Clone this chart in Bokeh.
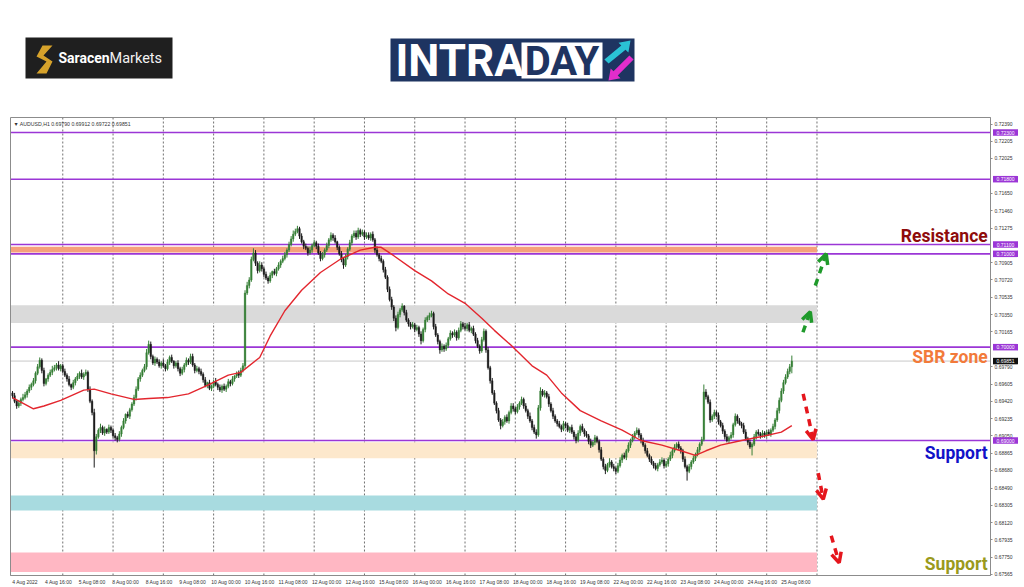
from bokeh.plotting import figure
from bokeh.models import (ColumnDataSource, Range1d, FixedTicker, LinearAxis,
                          Arrow, OpenHead, PrintfTickFormatter)
from bokeh.core.properties import value
from bokeh.embed import file_html
from bokeh.resources import INLINE

# ---------------------------------------------------------------- data
symbol_title = "\u25BC AUDUSD,H1  0.69790 0.69912 0.69722 0.69851"
first_open = 0.6951
# hourly closes in pips (0.0001), 4 Aug 2022 00:00 -> 25 Aug 2022 12:00
close_pips = [
6948,6942,6937,6940,6944,6946,6949,6953,6957,6960,
6964,6972,6979,6986,6975,6961,6966,6970,6973,6976,
6978,6981,6977,6980,6974,6970,6966,6960,6957,6962,
6966,6969,6972,6968,6971,6973,6955,6942,6930,6889,
6904,6911,6914,6908,6912,6909,6914,6911,6905,6903,
6901,6907,6914,6921,6928,6926,6933,6939,6946,6955,
6966,6970,6975,6979,6994,7003,6990,6983,6987,6984,
6980,6983,6980,6977,6984,6989,6985,6980,6983,6977,
6972,6976,6981,6986,6984,6990,6981,6975,6977,6974,
6971,6965,6959,6962,6956,6958,6963,6960,6957,6954,
6958,6955,6958,6963,6961,6966,6969,6972,6970,6975,
6980,7058,7066,7072,7094,7101,7090,7082,7088,7084,
7078,7074,7071,7077,7081,7079,7084,7088,7092,7095,
7099,7104,7110,7116,7121,7124,7127,7119,7113,7108,
7106,7101,7104,7109,7112,7108,7101,7095,7099,7104,
7109,7115,7120,7117,7113,7107,7100,7094,7088,7097,
7105,7112,7119,7122,7118,7125,7121,7123,7118,7120,
7117,7121,7115,7104,7099,7095,7092,7083,7075,7062,
7051,7043,7031,7021,7035,7040,7044,7037,7029,7025,
7022,7024,7019,7021,7014,7007,7019,7029,7032,7034,
7036,7022,7013,7006,6997,7001,6998,7002,7009,7015,
7013,7016,7010,7018,7025,7022,7020,7024,7018,7020,
7014,7007,7001,6996,7008,7017,6997,6978,6964,6951,
6940,6932,6922,6916,6920,6925,6921,6930,6937,6934,
6931,6936,6940,6944,6937,6932,6926,6921,6914,6909,
6906,6935,6953,6949,6951,6947,6939,6932,6926,6921,
6918,6915,6912,6918,6916,6911,6914,6909,6904,6900,
6908,6915,6911,6907,6905,6899,6895,6898,6903,6899,
6890,6880,6872,6868,6874,6877,6872,6870,6867,6873,
6879,6884,6882,6889,6895,6900,6904,6908,6911,6906,
6900,6895,6889,6884,6880,6876,6873,6870,6874,6877,
6879,6873,6875,6880,6884,6889,6893,6896,6892,6889,
6880,6872,6867,6872,6877,6881,6885,6890,6896,6901,
6952,6947,6941,6922,6926,6930,6927,6920,6916,6910,
6904,6900,6903,6906,6917,6926,6921,6918,6916,6909,
6902,6898,6893,6896,6904,6909,6907,6905,6908,6906,
6909,6907,6911,6915,6922,6932,6943,6953,6962,6968,
6974,6979,6985]
# upper / lower wick lengths in pips
up_wick = [
2,3,1,3,2,4,3,2,3,2, 3,2,3,3,2,3,1,2,3,4, 3,2,4,2,2,3,2,3,1,3,
2,3,2,4,2,3,2,3,2,4, 3,2,4,2,3,1,3,2,2,3, 2,3,2,3,1,3,2,2,3,3,
2,3,2,3,4,4,3,2,3,2, 3,2,4,2,3,2,3,1,2,3, 2,3,2,3,2,3,3,2,3,2,
3,2,3,1,3,2,2,4,2,3, 2,3,2,3,2,3,1,2,3,3, 3,3,4,3,3,5,3,2,4,3,
2,3,2,3,1,3,2,3,2,3, 3,2,3,3,4,3,3,2,3,2, 3,2,4,2,3,2,3,2,3,2,
3,2,3,2,3,1,2,3,2,3, 2,3,2,3,3,3,2,3,2,3, 3,2,3,2,4,2,3,2,3,2,
3,3,2,3,3,2,3,1,3,2, 2,3,2,3,2,3,2,3,2,3, 3,2,3,2,2,3,2,3,2,3,
2,3,2,3,3,2,4,2,3,2, 3,2,3,2,3,3,2,3,2,3, 3,2,3,2,3,2,3,2,3,3,
2,3,2,3,2,3,2,4,2,3, 3,3,4,2,3,2,3,2,3,2, 2,3,2,3,2,3,1,3,2,3,
3,2,3,2,3,2,3,2,3,2, 2,3,2,3,2,4,2,3,2,3, 3,2,3,2,3,2,3,2,3,2,
2,3,2,3,2,3,2,3,2,3, 3,2,3,2,4,2,3,2,3,2, 2,3,2,3,2,3,2,3,2,3,
8,3,2,3,2,3,2,3,2,3, 2,3,2,3,2,3,2,3,2,3, 3,2,3,2,3,2,3,2,3,2,
2,3,2,3,2,3,3,3,3,3, 3,3,6]
dn_wick = [
3,2,3,2,3,2,2,3,2,3, 2,3,2,2,3,3,2,3,2,3, 2,3,2,3,2,2,3,2,3,2,
3,2,3,2,3,2,3,2,3,18, 4,2,3,2,3,2,2,3,2,3, 3,2,3,2,3,2,3,2,2,3,
2,3,2,2,3,2,3,2,3,2, 2,3,2,3,2,3,2,3,2,3, 3,2,3,2,3,2,2,3,2,3,
2,3,2,3,2,3,2,2,3,2, 3,2,3,2,3,2,3,2,3,2, 2,3,2,3,2,2,3,3,2,3,
3,2,3,2,3,2,3,2,3,2, 2,3,2,2,3,2,2,3,2,3, 2,3,2,3,2,3,2,3,2,3,
2,3,2,3,2,3,2,3,4,2, 3,2,3,2,3,2,3,2,3,2, 2,3,2,3,2,3,2,3,2,3,
2,3,3,4,2,3,2,3,2,3, 3,2,3,2,3,4,2,3,2,3, 2,3,2,3,4,2,3,2,3,2,
3,2,3,2,2,3,2,3,2,3, 2,3,2,3,2,2,3,2,3,2, 2,3,2,4,2,3,2,3,2,3,
3,2,3,2,3,2,3,2,3,2, 4,2,3,2,3,2,3,2,3,2, 3,2,3,2,3,2,3,2,3,3,
2,3,2,3,2,3,3,2,3,2, 3,2,3,4,2,3,2,3,3,2, 2,3,2,3,2,3,2,3,2,3,
3,2,3,2,3,2,3,2,3,2, 2,3,2,3,2,3,2,3,2,3, 3,2,10,2,3,2,3,2,3,2,
2,3,2,3,2,3,2,3,2,3, 3,2,3,2,3,2,3,2,3,2, 2,3,2,9,2,3,2,3,2,3,
3,2,3,2,3,2,3,2,3,2, 2,3,7]

# red moving average (bar index, price)
ma_bar = [0, 10, 15, 23, 34, 39, 47, 58, 65, 74, 84, 93, 103, 109, 118, 123, 130,
          138, 147, 157, 166, 173, 176, 182, 192, 200, 208, 216, 224, 230, 238,
          248, 255, 262, 271, 281, 291, 300, 310, 319, 326, 331, 338, 348, 357,
          367, 372]
ma_val = [0.6946, 0.6934, 0.6937, 0.6943, 0.6954, 0.6955, 0.6950, 0.6944, 0.6945,
          0.6946, 0.6950, 0.6959, 0.6970, 0.6973, 0.6989, 0.7012, 0.7039, 0.7061,
          0.7080, 0.7095, 0.7104, 0.7107, 0.7107, 0.7098, 0.7082, 0.7071, 0.7057,
          0.7047, 0.7031, 0.7018, 0.7002, 0.6980, 0.6970, 0.6951, 0.6932, 0.6921,
          0.6911, 0.6900, 0.6895, 0.6889, 0.6884, 0.6889, 0.6895, 0.6900, 0.6904,
          0.6909, 0.6916]

time_labels = ["4 Aug 2022", "4 Aug 16:00", "5 Aug 08:00", "8 Aug 00:00", "8 Aug 16:00",
               "9 Aug 08:00", "10 Aug 00:00", "10 Aug 16:00", "11 Aug 08:00",
               "12 Aug 00:00", "12 Aug 16:00", "15 Aug 08:00", "16 Aug 00:00",
               "16 Aug 16:00", "17 Aug 08:00", "18 Aug 00:00", "18 Aug 16:00",
               "19 Aug 08:00", "22 Aug 00:00", "22 Aug 16:00", "23 Aug 08:00",
               "24 Aug 00:00", "24 Aug 16:00", "25 Aug 08:00"]
bars_per_label = 16
bars_per_day = 24
n_day_lines = 16

price_ticks = [0.72390, 0.72205, 0.72025, 0.71650, 0.71460, 0.71275, 0.70905, 0.70720,
               0.70535, 0.70350, 0.70165, 0.69790, 0.69605, 0.69420, 0.69235, 0.69050,
               0.68865, 0.68680, 0.68490, 0.68305, 0.68120, 0.67935, 0.67750, 0.67565]
level_lines = [0.72300, 0.71800, 0.71100, 0.71000, 0.70000, 0.69000]
last_price = 0.69851

zone_bottom = [0.71015, 0.70260, 0.68810, 0.68250, 0.67590]
zone_top = [0.71075, 0.70450, 0.68980, 0.68410, 0.67800]
zone_colors = ["#F6A07C", "#DADADA", "#FDE8CC", "#A8DBE0", "#FFB7C3"]
zone_end_bar = 384

green_arrows = [(377.3, 0.7016, 380.8, 0.7038), (383.2, 0.7066, 388.4, 0.7100)]
red_arrows = [(377.4, 0.6950, 382.2, 0.6901), (384.6, 0.6865, 387.0, 0.6837),
              (390.8, 0.6798, 394.6, 0.6769)]

notes = ["Resistance", "SBR zone", "Support", "Support"]
note_y = [0.71196, 0.69900, 0.68871, 0.67682]
note_colors = ["#8E0B0B", "#F27A3A", "#1212C8", "#9A9A1C"]
note_x = 465.5

# ---------------------------------------------------------------- derived
assert len(close_pips) == len(up_wick) == len(dn_wick)
PIP = 10000.0
closes = [c / PIP for c in close_pips]
opens = [first_open] + closes[:-1]
tops = [max(o, c) for o, c in zip(opens, closes)]
bots = [min(o, c) for o, c in zip(opens, closes)]
highs = [t + u / PIP for t, u in zip(tops, up_wick)]
lows = [b - d / PIP for b, d in zip(bots, dn_wick)]
bars = list(range(len(closes)))
cols = ["#367F36" if c >= o else "#1C1C1C" for o, c in zip(opens, closes)]
src = ColumnDataSource(dict(x=bars, h=highs, l=lows, top=tops, bot=bots, col=cols))

# ---------------------------------------------------------------- page geometry
W, H = 1024, 587
PX_PER_BAR, BAR0_PX = 2.095, 12.0          # bar 0 sits at x = 12 px
PX_PER_UNIT, REF_PRICE, REF_PX = 9333.0, 0.69, 440.0   # 0.69000 sits at y = 440 px
FL, FR, FT, FB = 10, 990, 117, 575          # chart frame in page pixels


def bx(px):
    return (px - BAR0_PX) / PX_PER_BAR


def py(px):
    return REF_PRICE + (REF_PX - px) / PX_PER_UNIT


PURPLE = "#9B36D6"
R = dict(x_range_name="bars", y_range_name="price")

p = figure(width=W, height=H, x_range=Range1d(0, W), y_range=Range1d(H, 0),
           toolbar_location=None, output_backend="svg", x_axis_location=None,
           y_axis_location=None, min_border=0, outline_line_color=None,
           background_fill_color="white", border_fill_color="white")
p.grid.visible = False
p.extra_x_ranges = {"bars": Range1d(bx(0), bx(W))}
p.extra_y_ranges = {"price": Range1d(py(H), py(0))}

# ---------------------------------------------------------------- logos (page pixels)
p.quad(left=[25], right=[172], top=[37], bottom=[78], fill_color="#1F1F1F", line_color=None)
p.patch([52, 42, 36, 46, 36, 46, 52, 43], [45, 45, 56, 61, 73, 73, 61, 55],
        fill_color="#D6A22B", line_color=None)
p.text(x=[58], y=[57.5], text=["Saracen"], text_color="white", text_font=value("Roboto"),
       text_font_style="bold", text_font_size="14px", text_baseline="middle")
p.text(x=[109], y=[57.5], text=["Markets"], text_color="#F2F2F2", text_font=value("Roboto"),
       text_font_size="14.5px", text_baseline="middle")

p.quad(left=[390], right=[634], top=[38], bottom=[81], fill_color="#1E3461", line_color=None)
p.quad(left=[521], right=[602], top=[42], bottom=[78], fill_color="white", line_color=None)
p.text(x=[395], y=[60.5], text=["INTRA"], text_color="white", text_font=value("Roboto"),
       text_font_style="bold", text_font_size="44px", text_baseline="middle")
p.text(x=[561.5], y=[60.5], text=["DAY"], text_color="#1E3461", text_font=value("Roboto"),
       text_font_style="bold", text_font_size="40px", text_baseline="middle",
       text_align="center")
p.patches(
    xs=[[630, 627.9, 625, 608.1, 603.9, 620.8, 618],
        [608, 620, 617.2, 633.1, 628.9, 613, 610.2]],
    ys=[[40, 52.1, 49.2, 63.1, 58.9, 45, 42.2],
        [80, 77.8, 75, 59.1, 54.9, 70.8, 68]],
    fill_color=["#2AC3D5", "#E22DCB"], line_color=None)

# ---------------------------------------------------------------- chart
day_ticks = [bars_per_day * k for k in range(1, n_day_lines + 1)]
p.segment(x0=day_ticks, x1=day_ticks, y0=py(FB), y1=py(FT), line_color="#707070",
          line_dash="2 2", line_width=1, **R)

nz = len(zone_top)
p.quad(left=[bx(FL)] * nz, right=[zone_end_bar] * nz, bottom=zone_bottom, top=zone_top,
       fill_color=zone_colors, line_color=None, **R)

p.segment(x0=bx(FL), x1=bx(FR), y0=last_price, y1=last_price, line_color="#C8C8C8",
          line_width=1, **R)
p.segment(x0=[bx(FL)] * len(level_lines), x1=[bx(FR)] * len(level_lines),
          y0=level_lines, y1=level_lines, line_color=PURPLE, line_width=1.6, **R)

p.segment(x0="x", y0="l", x1="x", y1="h", line_color="col", line_width=1, source=src, **R)
p.vbar(x="x", width=0.75, top="top", bottom="bot", fill_color="col", line_color="col",
       line_width=0.4, source=src, **R)

p.line(ma_bar, ma_val, line_color="#E3262E", line_width=1.4, **R)

p.quad(left=[bx(FL)], right=[bx(FR)], bottom=[py(FB)], top=[py(FT)], fill_color=None,
       line_color="#8C8C8C", line_width=1, **R)

for (xa, ya, xb, yb) in green_arrows:
    p.add_layout(Arrow(end=OpenHead(size=10, line_color="#1F9A2B", line_width=3.5),
                       x_start=xa, y_start=ya, x_end=xb, y_end=yb,
                       line_color="#1F9A2B", line_width=3.5, line_dash="7 6", **R))
for (xa, ya, xb, yb) in red_arrows:
    p.add_layout(Arrow(end=OpenHead(size=10, line_color="#E5161D", line_width=3.5),
                       x_start=xa, y_start=ya, x_end=xb, y_end=yb,
                       line_color="#E5161D", line_width=3.5, line_dash="7 6", **R))

p.text(x=[note_x] * len(notes), y=note_y, text=notes, text_color=note_colors,
       text_font=value("Roboto"), text_font_style="bold", text_font_size="17.5px",
       text_align="right", text_baseline="middle", **R)

p.text(x=[bx(13)], y=[py(123)], text=[symbol_title], text_font=value("Liberation Sans"),
       text_font_size="5.2px", text_color="#333333", text_baseline="middle", **R)

# ---------------------------------------------------------------- axes (fixed inside page)
xt = [bars_per_label * i + 6 for i in range(len(time_labels))]
xax = LinearAxis(fixed_location=py(FB), bounds=(bx(FL), bx(FR)),
                 ticker=FixedTicker(ticks=xt),
                 major_label_overrides={t: lab for t, lab in zip(xt, time_labels)}, **R)
xax.major_label_text_font = "Liberation Sans"
xax.major_label_text_font_size = "5px"
xax.major_label_text_color = "#333333"
xax.major_tick_out = 0
xax.major_tick_in = 0
xax.minor_tick_line_color = None
xax.axis_line_color = "#8C8C8C"
xax.major_label_standoff = 3
p.add_layout(xax, "below")

yax = LinearAxis(fixed_location=bx(FR), bounds=(py(FB), py(FT)),
                 ticker=FixedTicker(ticks=price_ticks),
                 formatter=PrintfTickFormatter(format="%.5f"), **R)
yax.major_label_text_font = "Liberation Sans"
yax.major_label_text_font_size = "5px"
yax.major_label_text_color = "#333333"
yax.major_tick_out = 2
yax.major_tick_in = 0
yax.minor_tick_line_color = None
yax.axis_line_color = "#8C8C8C"
yax.major_tick_line_color = "#8C8C8C"
yax.major_label_standoff = 2
p.add_layout(yax, "right")

# price-level tags on the price scale
tag_vals = level_lines + [last_price]
tag_cols = [PURPLE] * len(level_lines) + ["#111111"]
p.rect(x=[bx(1005)] * len(tag_vals), y=tag_vals, width=25, height=6.5,
       width_units="screen", height_units="screen", fill_color=tag_cols, line_color=None,
       level="overlay", **R)
p.text(x=[bx(1005)] * len(tag_vals), y=tag_vals, text=[f"{v:.5f}" for v in tag_vals],
       text_font=value("Liberation Sans"), text_font_size="5px", text_color="white",
       text_align="center", text_baseline="middle", level="overlay", **R)

open("out.html", "w").write(file_html(p, INLINE, "AUDUSD H1"))
